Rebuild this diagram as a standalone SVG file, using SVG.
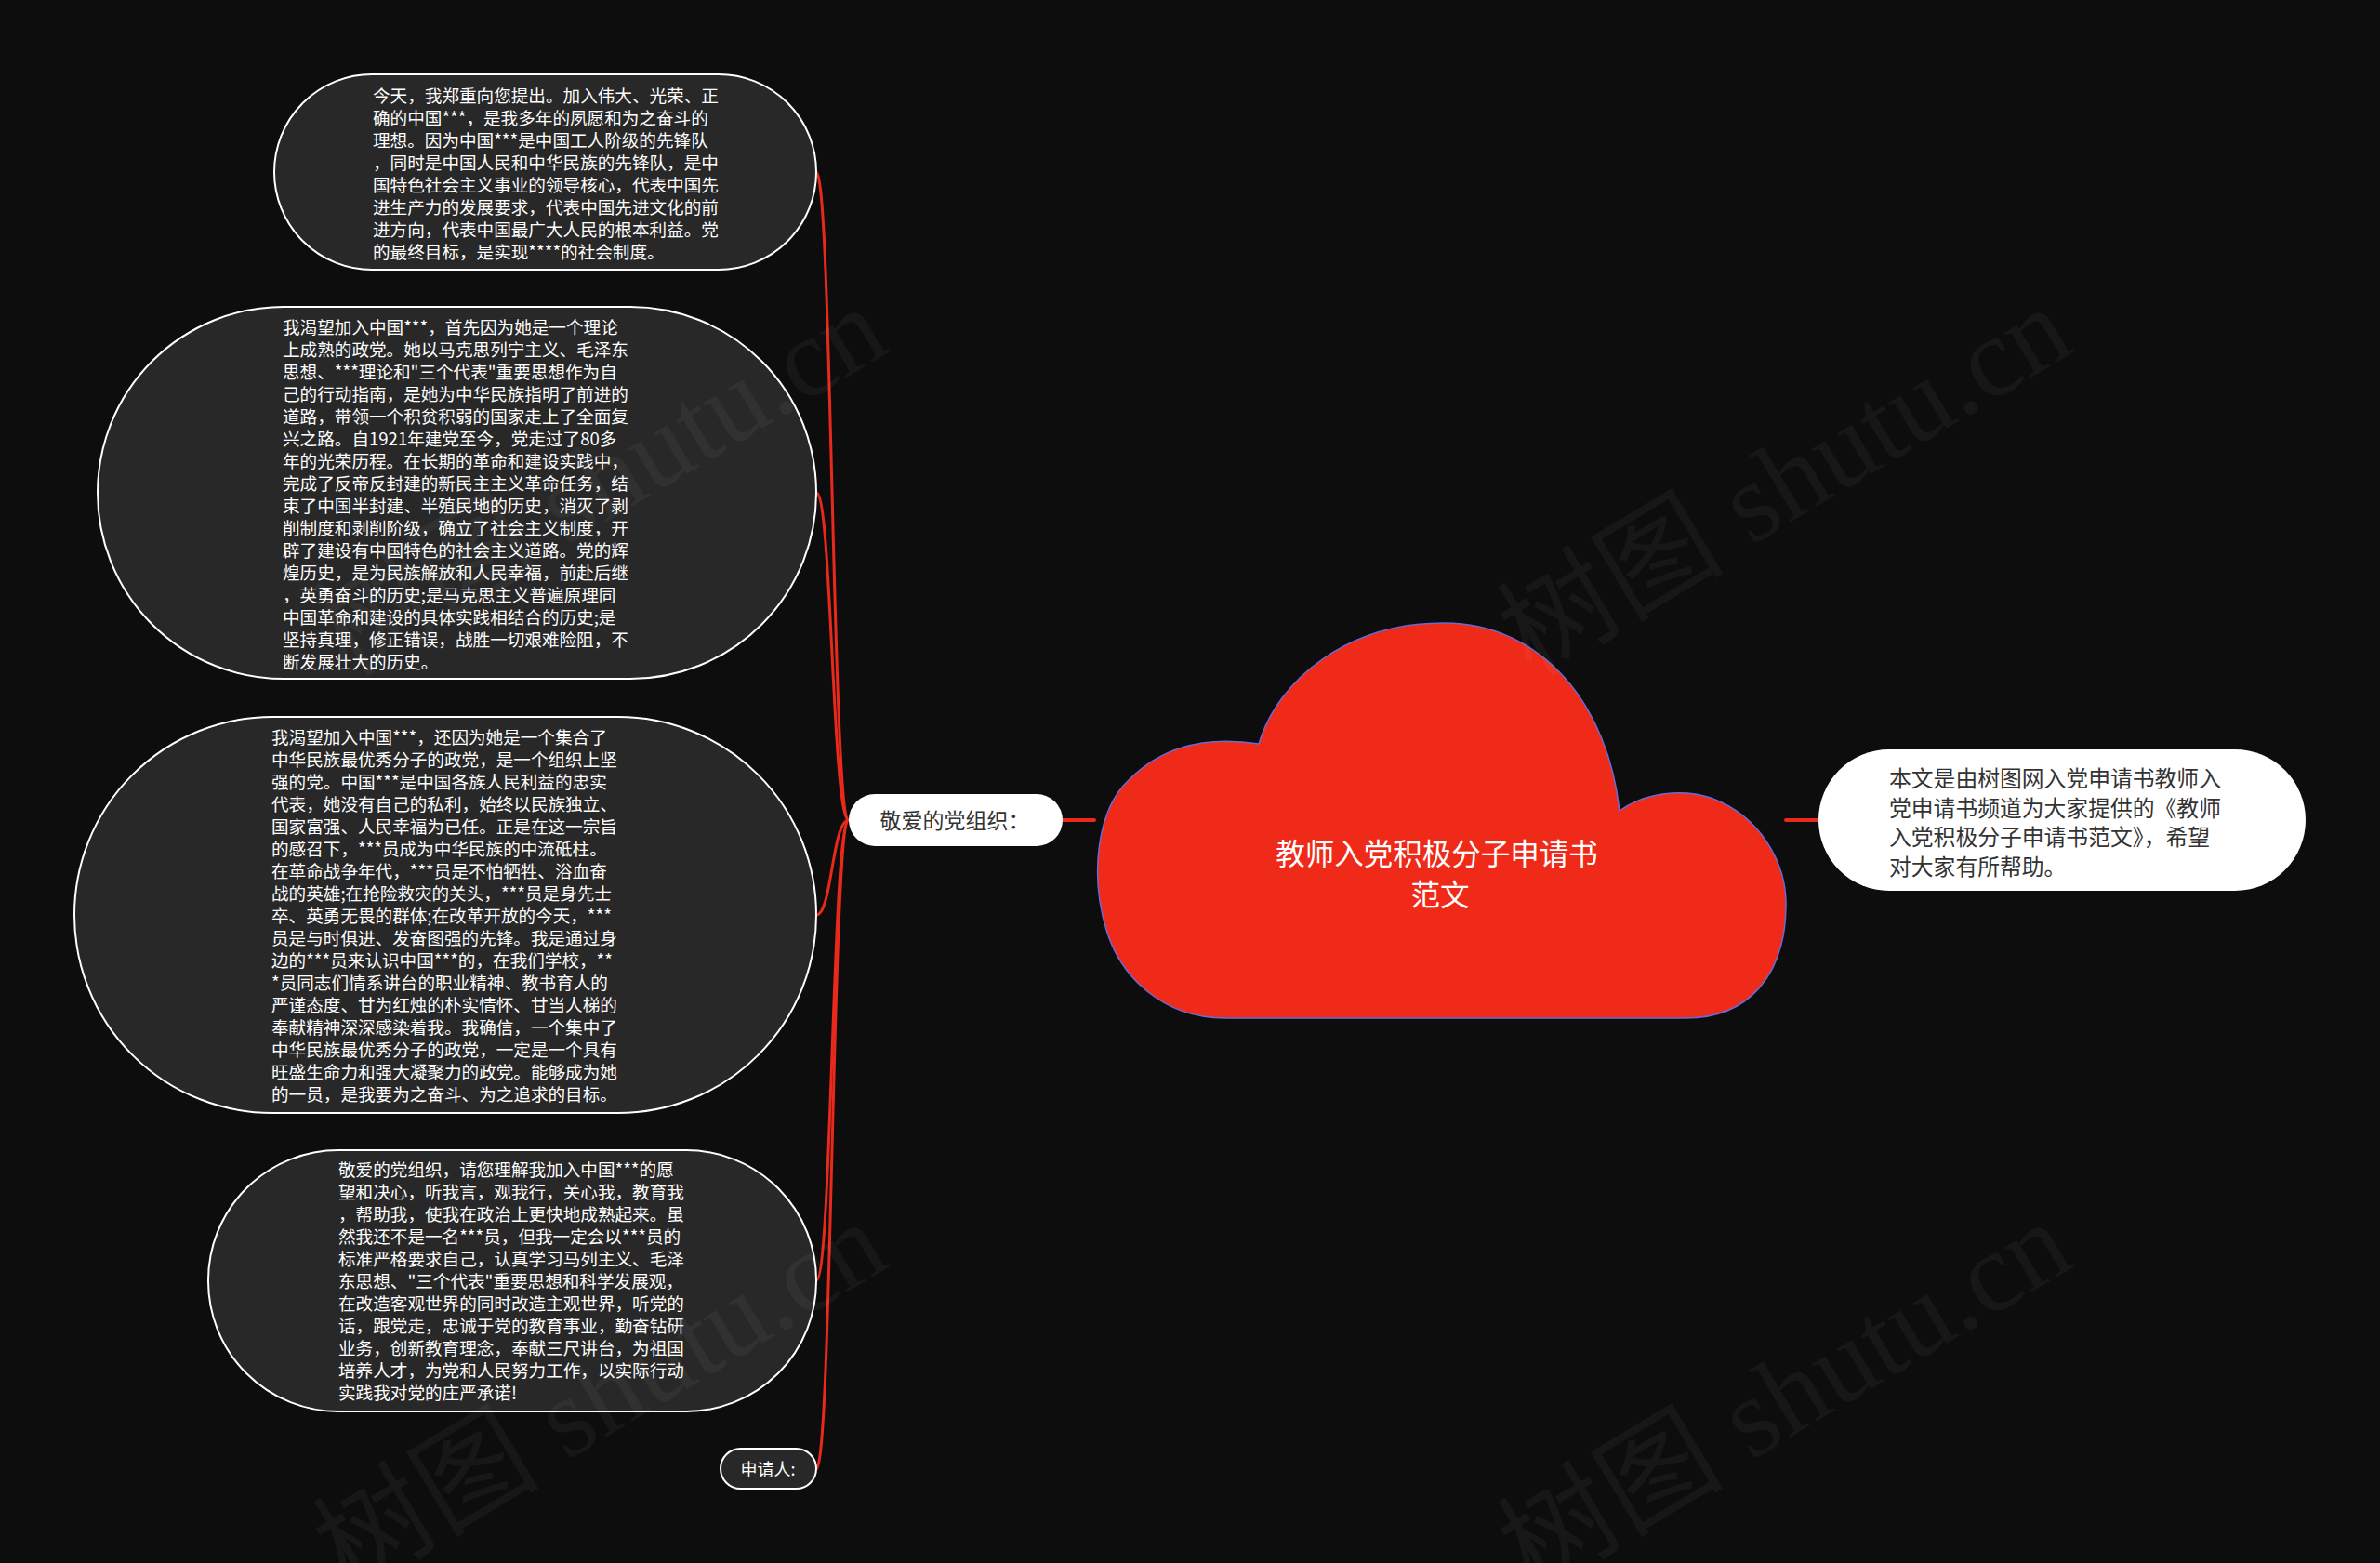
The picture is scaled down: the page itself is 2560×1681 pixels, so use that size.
<svg xmlns="http://www.w3.org/2000/svg" width="2560" height="1681" viewBox="0 0 2560 1681">
<style>
.bg{fill:#0d0d0d}
.card{fill:#282828;stroke:#ffffff;stroke-width:2}
.body{font-family:"Noto Sans CJK SC","Noto Sans",sans-serif;font-size:18.6px;fill:#ffffff}
.pill{fill:#ffffff}
.dark{font-family:"Noto Sans CJK SC","Noto Sans",sans-serif;fill:#333333}
.link{fill:none;stroke:#e8291c;stroke-width:3;stroke-linecap:round}
.wm{font-family:"Liberation Serif","Noto Sans CJK SC",serif;font-size:122px;fill:#ffffff;fill-opacity:0.045}
</style>
<rect class="bg" x="0" y="0" width="2560" height="1681"/>

<g id="connectors">
<path class="link" d="M913 882 C895 882 895 185 878 185"/>
<path class="link" d="M913 882 C895 882 895 530 878 530"/>
<path class="link" d="M913 882 C895 882 895 984 878 984"/>
<path class="link" d="M913 882 C895 882 895 1377 878 1377"/>
<path class="link" d="M913 882 C895 882 895 1580 878 1580"/>
<path class="link" style="stroke-width:4" d="M1143 882 L1177 882"/>
<path class="link" style="stroke-width:4" d="M1921 882 L1956 882"/>
</g>

<g id="node1">
<rect class="card" x="295" y="80" width="583" height="210" rx="105" ry="105"/>
<text class="body">
<tspan x="401" y="110">今天，我郑重向您提出。加入伟大、光荣、正</tspan>
<tspan x="401" y="134">确的中国***，是我多年的夙愿和为之奋斗的</tspan>
<tspan x="401" y="158">理想。因为中国***是中国工人阶级的先锋队</tspan>
<tspan x="401" y="182">，同时是中国人民和中华民族的先锋队，是中</tspan>
<tspan x="401" y="206">国特色社会主义事业的领导核心，代表中国先</tspan>
<tspan x="401" y="230">进生产力的发展要求，代表中国先进文化的前</tspan>
<tspan x="401" y="254">进方向，代表中国最广大人民的根本利益。党</tspan>
<tspan x="401" y="278">的最终目标，是实现****的社会制度。</tspan>
</text>
</g>

<g id="node2">
<rect class="card" x="105" y="330" width="773" height="400" rx="200" ry="200"/>
<text class="body">
<tspan x="304" y="359">我渴望加入中国***，首先因为她是一个理论</tspan>
<tspan x="304" y="383">上成熟的政党。她以马克思列宁主义、毛泽东</tspan>
<tspan x="304" y="407">思想、***理论和"三个代表"重要思想作为自</tspan>
<tspan x="304" y="431">己的行动指南，是她为中华民族指明了前进的</tspan>
<tspan x="304" y="455">道路，带领一个积贫积弱的国家走上了全面复</tspan>
<tspan x="304" y="479">兴之路。自1921年建党至今，党走过了80多</tspan>
<tspan x="304" y="503">年的光荣历程。在长期的革命和建设实践中，</tspan>
<tspan x="304" y="527">完成了反帝反封建的新民主主义革命任务，结</tspan>
<tspan x="304" y="551">束了中国半封建、半殖民地的历史，消灭了剥</tspan>
<tspan x="304" y="575">削制度和剥削阶级，确立了社会主义制度，开</tspan>
<tspan x="304" y="599">辟了建设有中国特色的社会主义道路。党的辉</tspan>
<tspan x="304" y="623">煌历史，是为民族解放和人民幸福，前赴后继</tspan>
<tspan x="304" y="647">，英勇奋斗的历史;是马克思主义普遍原理同</tspan>
<tspan x="304" y="671">中国革命和建设的具体实践相结合的历史;是</tspan>
<tspan x="304" y="695">坚持真理，修正错误，战胜一切艰难险阻，不</tspan>
<tspan x="304" y="719">断发展壮大的历史。</tspan>
</text>
</g>

<g id="node3">
<rect class="card" x="80" y="771" width="798" height="426" rx="213" ry="213"/>
<text class="body">
<tspan x="292" y="800">我渴望加入中国***，还因为她是一个集合了</tspan>
<tspan x="292" y="824">中华民族最优秀分子的政党，是一个组织上坚</tspan>
<tspan x="292" y="848">强的党。中国***是中国各族人民利益的忠实</tspan>
<tspan x="292" y="872">代表，她没有自己的私利，始终以民族独立、</tspan>
<tspan x="292" y="896">国家富强、人民幸福为已任。正是在这一宗旨</tspan>
<tspan x="292" y="920">的感召下，***员成为中华民族的中流砥柱。</tspan>
<tspan x="292" y="944">在革命战争年代，***员是不怕牺牲、浴血奋</tspan>
<tspan x="292" y="968">战的英雄;在抢险救灾的关头，***员是身先士</tspan>
<tspan x="292" y="992">卒、英勇无畏的群体;在改革开放的今天，***</tspan>
<tspan x="292" y="1016">员是与时俱进、发奋图强的先锋。我是通过身</tspan>
<tspan x="292" y="1040">边的***员来认识中国***的，在我们学校，**</tspan>
<tspan x="292" y="1064">*员同志们情系讲台的职业精神、教书育人的</tspan>
<tspan x="292" y="1088">严谨态度、甘为红烛的朴实情怀、甘当人梯的</tspan>
<tspan x="292" y="1112">奉献精神深深感染着我。我确信，一个集中了</tspan>
<tspan x="292" y="1136">中华民族最优秀分子的政党，一定是一个具有</tspan>
<tspan x="292" y="1160">旺盛生命力和强大凝聚力的政党。能够成为她</tspan>
<tspan x="292" y="1184">的一员，是我要为之奋斗、为之追求的目标。</tspan>
</text>
</g>

<g id="node4">
<rect class="card" x="224" y="1237" width="654" height="281" rx="140" ry="140"/>
<text class="body">
<tspan x="364" y="1265">敬爱的党组织，请您理解我加入中国***的愿</tspan>
<tspan x="364" y="1289">望和决心，听我言，观我行，关心我，教育我</tspan>
<tspan x="364" y="1313">，帮助我，使我在政治上更快地成熟起来。虽</tspan>
<tspan x="364" y="1337">然我还不是一名***员，但我一定会以***员的</tspan>
<tspan x="364" y="1361">标准严格要求自己，认真学习马列主义、毛泽</tspan>
<tspan x="364" y="1385">东思想、"三个代表"重要思想和科学发展观，</tspan>
<tspan x="364" y="1409">在改造客观世界的同时改造主观世界，听党的</tspan>
<tspan x="364" y="1433">话，跟党走，忠诚于党的教育事业，勤奋钻研</tspan>
<tspan x="364" y="1457">业务，创新教育理念，奉献三尺讲台，为祖国</tspan>
<tspan x="364" y="1481">培养人才，为党和人民努力工作，以实际行动</tspan>
<tspan x="364" y="1505">实践我对党的庄严承诺!</tspan>
</text>
</g>

<g id="node5">
<rect class="card" x="775" y="1558" width="103" height="43" rx="21.5" ry="21.5"/>
<text class="body" style="font-size:18px" x="826" y="1587" text-anchor="middle">申请人:</text>
</g>

<g id="hub">
<rect class="pill" x="913" y="854" width="230" height="56" rx="28" ry="28"/>
<text class="dark" style="font-size:23px" x="1027" y="891" text-anchor="middle">敬爱的党组织：</text>
</g>

<g id="root">
<path d="M1318 1095 C1250 1095 1205 1050 1190 1000 C1172 940 1180 870 1215 838 C1245 808 1290 790 1354 800 C1375 730 1450 670 1553 670 C1660 670 1730 760 1742 872 C1770 852 1810 848 1840 858 C1895 878 1922 930 1921 975 C1920 1050 1880 1095 1813 1095 Z" fill="#ef2a19" stroke="#6b6bd6" stroke-width="1.5"/>
<text style="font-family:'Noto Sans CJK SC','Noto Sans',sans-serif;font-size:31.5px;fill:#ffffff" text-anchor="middle">
<tspan x="1549" y="930">教师入党积极分子申请书</tspan>
<tspan x="1549" y="974">范文</tspan>
</text>
</g>

<g id="summary">
<rect class="pill" x="1956" y="806" width="524" height="152" rx="76" ry="76"/>
<text class="dark" style="font-size:23.8px">
<tspan x="2032" y="846">本文是由树图网入党申请书教师入</tspan>
<tspan x="2032" y="878">党申请书频道为大家提供的《教师</tspan>
<tspan x="2032" y="909">入党积极分子申请书范文》，希望</tspan>
<tspan x="2032" y="941">对大家有所帮助。</tspan>
</text>
</g>

<g id="watermarks">
<text class="wm" text-anchor="middle" dy="0.35em" transform="translate(1919 516) rotate(-31)">树图 shutu.cn</text>
<text class="wm" text-anchor="middle" dy="0.35em" transform="translate(1919 1500) rotate(-31)">树图 shutu.cn</text>
<text class="wm" text-anchor="middle" dy="0.35em" transform="translate(645 516) rotate(-31)">树图 shutu.cn</text>
<text class="wm" text-anchor="middle" dy="0.35em" transform="translate(645 1500) rotate(-31)">树图 shutu.cn</text>
</g>
</svg>
